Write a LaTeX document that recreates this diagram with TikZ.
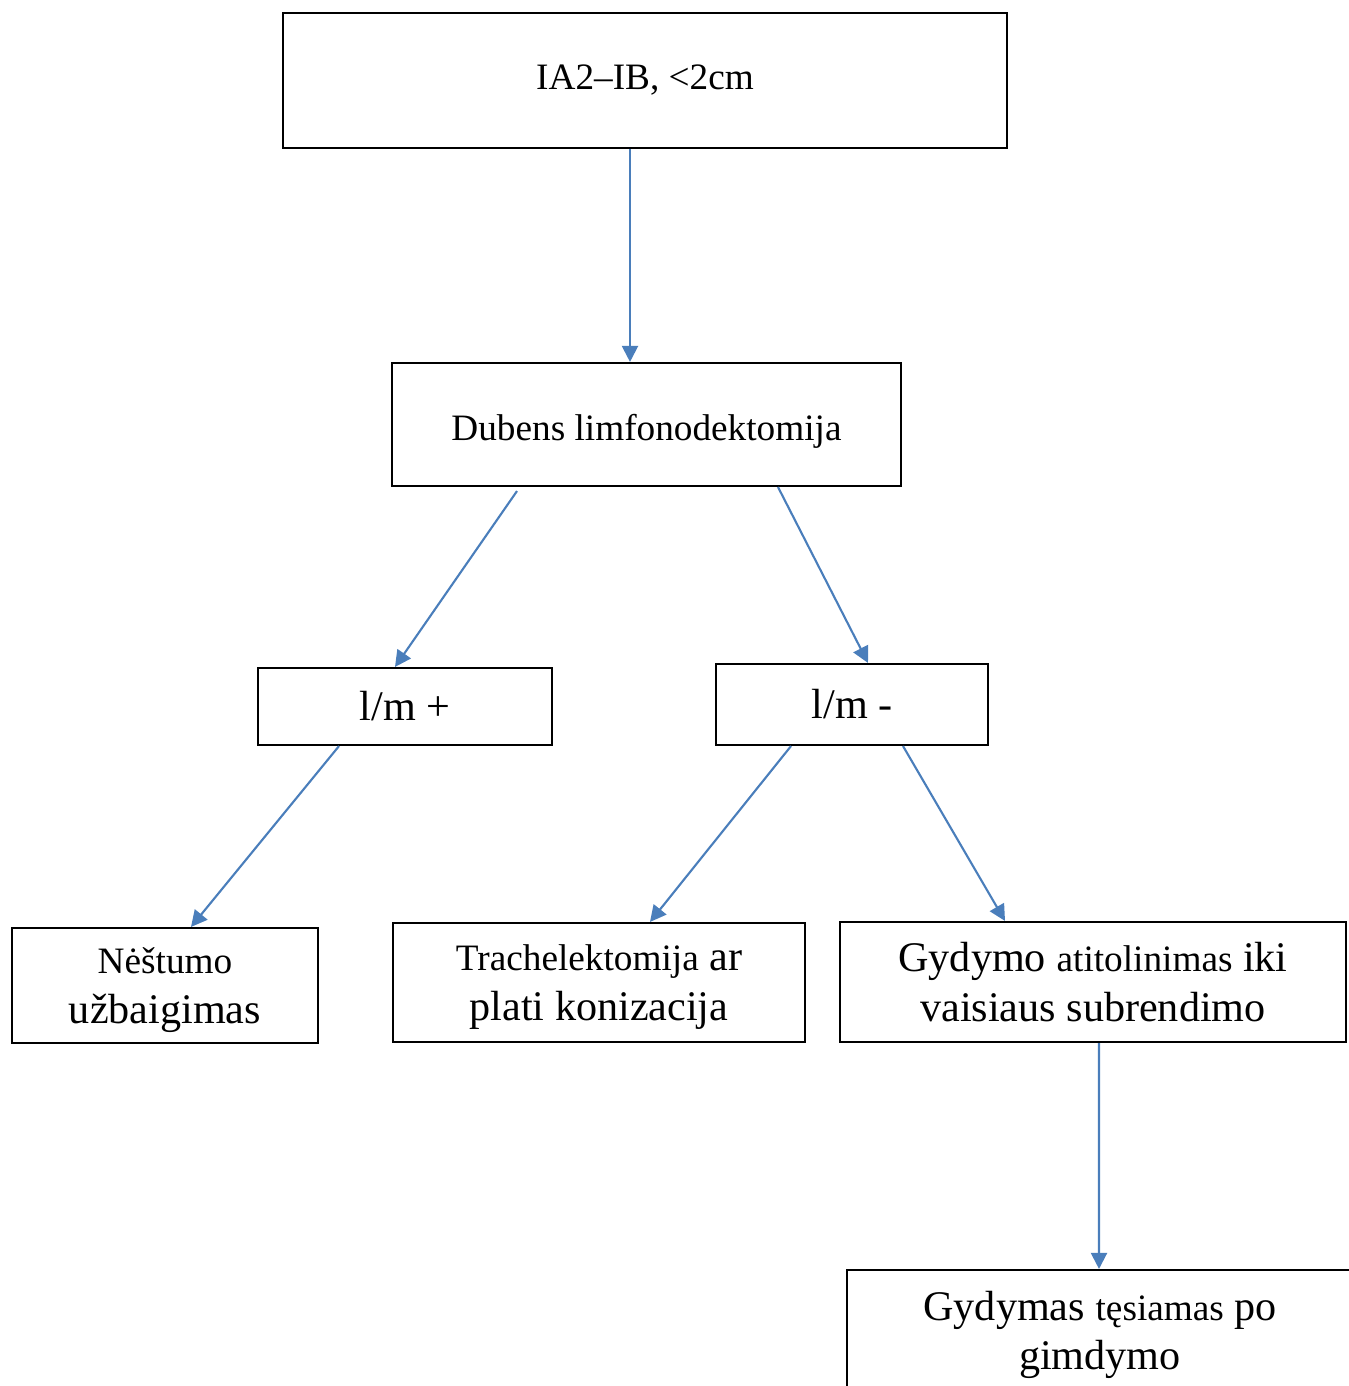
\documentclass[tikz,border=0pt]{standalone}
\usepackage{fontspec}
\setmainfont{Liberation Serif}
\usepackage{tikz}
\usetikzlibrary{arrows.meta}
\definecolor{linkblue}{RGB}{74,126,187}
\newcommand{\smtxt}{\fontsize{10.6}{14}\selectfont}
\newcommand{\bgtxt}{\fontsize{12}{14}\selectfont}

\begin{document}
\begin{tikzpicture}[
	box/.style={draw=black, line width=0.6pt, inner sep=0pt, align=center, font=\bgtxt},
	link/.style={linkblue, line width=0.6pt, -{Triangle[length=4.6pt,width=4.6pt]}}]
	\useasboundingbox (0,0) rectangle (13.48,-13.86);
	\node [box, minimum width=7.24cm, minimum height=1.35cm] (top) at (6.45,-0.805) {\smtxt IA2--IB, <2cm};
	\node [box, minimum width=5.09cm, minimum height=1.23cm, text height=0.39cm, text depth=0.08cm] (dub) at (6.465,-4.245) {\smtxt Dubens limfonodektomija};
	\node [box, minimum width=2.94cm, minimum height=0.77cm] (lmp) at (4.05,-7.065) {l/m +};
	\node [box, minimum width=2.72cm, minimum height=0.81cm] (lmm) at (8.52,-7.045) {l/m -};
	\node [box, minimum width=3.06cm, minimum height=1.15cm, text depth=0cm] (nes) at (1.65,-9.855) {{\smtxt Nėštumo}\\užbaigimas};
	\node [box, minimum width=4.12cm, minimum height=1.19cm, text depth=0cm] (tra) at (5.99,-9.825) {{\smtxt Trachelektomija} ar\\plati konizacija};
	\node [box, minimum width=5.06cm, minimum height=1.20cm] (gyd) at (10.93,-9.82) {Gydymo {\smtxt atitolinimas} iki\\vaisiaus subrendimo};
	% runs off the page at the right and bottom
	\node [box, minimum width=5.06cm, minimum height=1.30cm] (gmd) at (11.00,-13.35) {Gydymas {\smtxt tęsiamas} po\\gimdymo};

	\draw [link] ([xshift=-0.15cm]top.south) -- ([xshift=-0.165cm]dub.north);
	\draw [link] ([xshift=-1.295cm,yshift=-0.04cm]dub.south) -- ([xshift=-0.10cm]lmp.north);
	\draw [link] ([xshift=1.315cm]dub.south) -- ([xshift=0.16cm]lmm.north);
	\draw [link] ([xshift=-0.66cm]lmp.south) -- ([xshift=0.26cm]nes.north);
	\draw [link] ([xshift=-0.61cm]lmm.south) -- ([xshift=0.51cm]tra.north);
	\draw [link] ([xshift=0.51cm]lmm.south) -- ([xshift=-0.88cm]gyd.north);
	\draw [link] ([xshift=0.06cm]gyd.south) -- ([xshift=-0.01cm]gmd.north);
\end{tikzpicture}
\end{document}
